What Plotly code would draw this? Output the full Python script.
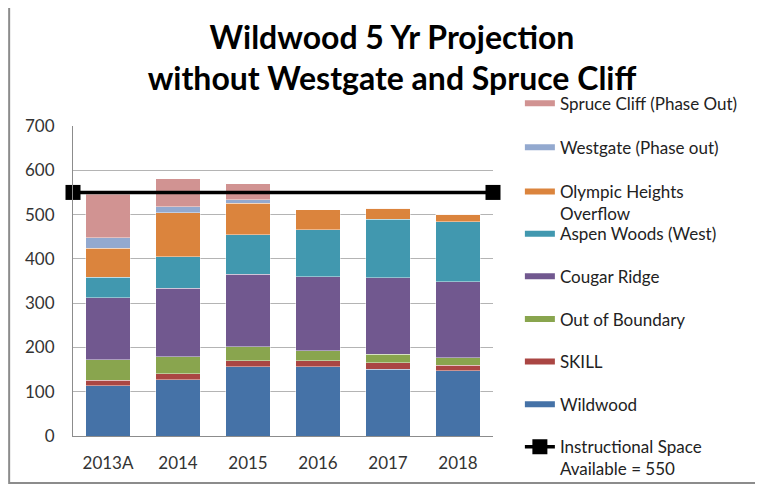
import plotly.graph_objects as go

years = ["2013A", "2014", "2015", "2016", "2017", "2018"]

wildwood = [114, 127, 156, 156, 151, 147]
skill = [12, 14, 14, 14, 14, 13]
out_of_boundary = [46, 38, 31, 23, 20, 17]
cougar_ridge = [140, 155, 164, 167, 172, 171]
aspen_woods = [47, 71, 90, 106, 132, 136]
olympic_heights = [65, 99, 71, 45, 25, 17]
westgate = [24, 14, 8, 0, 0, 0]
spruce_cliff = [98, 63, 36, 0, 0, 0]

capacity = 550
capacity_ends = [0, 1]  # spans the whole plot width on the helper axis

# name, values, colour, which legend box it goes in
series = [
    ("Wildwood", wildwood, "#4572A7", "legend2"),
    ("SKILL", skill, "#AA4643", "legend2"),
    ("Out of Boundary", out_of_boundary, "#89A54E", "legend2"),
    ("Cougar Ridge", cougar_ridge, "#71588F", "legend2"),
    ("Aspen Woods (West)", aspen_woods, "#4198AF", "legend2"),
    ("Olympic Heights<br>Overflow", olympic_heights, "#DB843D", "legend"),
    ("Westgate (Phase out)", westgate, "#93A9CF", "legend"),
    ("Spruce Cliff (Phase Out)", spruce_cliff, "#D19392", "legend"),
]

fig = go.Figure()

for i, (name, vals, col, leg) in enumerate(series):
    fig.add_trace(go.Bar(x=years, y=vals, name=name, marker_color=col,
                         marker_line=dict(color="rgba(255,255,255,0.7)", width=0.6),
                         legendgroup=name, showlegend=False))
    # wide swatch for the legend, like excel's
    fig.add_trace(go.Scatter(x=[None], y=[None], mode="lines", name=name,
                             line=dict(color=col, width=6), legendgroup=name,
                             legend=leg, legendrank=100 - i))

fig.add_trace(go.Scatter(x=capacity_ends, y=[capacity] * 2, xaxis="x2",
                         mode="lines+markers", name="Instructional Space<br>Available = 550",
                         line=dict(color="black", width=3.5),
                         marker=dict(symbol="square", size=15, color="black"),
                         cliponaxis=False, legendgroup="cap", legend="legend2",
                         legendrank=200))

leg_style = dict(x=1.064, xanchor="left", yanchor="top", maxheight=470,
                 traceorder="grouped", tracegroupgap=17.5, valign="top",
                 font=dict(size=17, color="#222222"), bgcolor="rgba(0,0,0,0)")

# page body has an 8px margin, so the figure is 8px smaller and shifted
fig.update_layout(
    width=755, height=477,
    barmode="stack", bargap=0.36,
    plot_bgcolor="white", paper_bgcolor="white",
    margin=dict(l=65, r=270, t=118, b=49, autoexpand=False),
    font=dict(family="Lato", size=17, color="#333333"),
    title=dict(text="<b>Wildwood 5 Yr Projection<br>without Westgate and Spruce Cliff</b>",
               x=0.5086, xanchor="center", y=0.915, yanchor="top",
               font=dict(family="Lato", size=32, color="black")),
    xaxis=dict(showline=True, linecolor="#8c8c8c", linewidth=1, ticks="",
               ticklabelstandoff=12, tickfont=dict(size=17)),
    xaxis2=dict(overlaying="x", range=[0, 1], visible=False),
    yaxis=dict(range=[0, 700], dtick=100, showline=True, linecolor="#8c8c8c",
               gridcolor="#b4b4b4", gridwidth=1, zeroline=False,
               ticklabelstandoff=14, tickfont=dict(size=17)),
    legend=dict(leg_style, y=1.13, tracegroupgap=19),
    legend2=dict(leg_style, y=0.709),
    shapes=[dict(type="rect", xref="paper", yref="paper",
                 x0=-0.152, x1=1.7, y0=-0.152, y1=1.6,
                 line=dict(color="#8c8c8c", width=2))],
)

fig.write_html("out.html")
